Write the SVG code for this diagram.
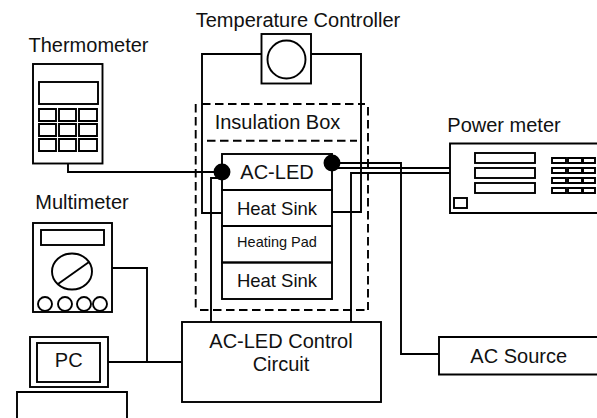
<svg xmlns="http://www.w3.org/2000/svg" width="597" height="418" viewBox="0 0 597 418">
<style>
rect,circle,ellipse,path{fill:none;stroke:#000;stroke-width:1.9}
.d{stroke-dasharray:8.500 4.500;stroke-width:1.9}
.dot{fill:#000}
text{font-family:"Liberation Sans",Arial,sans-serif;font-size:20px;fill:#111;text-anchor:middle}
.hs{font-size:18.500px}
</style>
<rect width="597" height="418" style="fill:#fff;stroke:none"/>
<g id="connectors">
<path d="M68 163V172H222"/>
<path d="M261 54H202V213H222"/>
<path d="M311 54H361V212H332"/>
<path d="M222 178H211V322"/>
<path d="M332 163H401V354H439"/>
<path d="M332 168H450"/>
<path d="M351 322V173H450"/>
<path d="M112 268H147V362"/>
<path d="M108 362H182"/>
</g>
<g id="insulation-box">
<path class="d" d="M202 104H365"/>
<path class="d" d="M195.700 104V308"/>
<path class="d" d="M368 107V310"/>
<path class="d" d="M200 310H368"/>
<path class="d" d="M207 140.700H357"/>
<text x="277.500" y="129">Insulation Box</text>
</g>
<g id="thermometer">
<text x="88.500" y="52">Thermometer</text>
<rect x="33" y="64" width="69.500" height="99.500"/>
<rect x="39" y="82" width="59" height="22"/>
<path d="M39 109h17v12h-17zM59 109h17v12h-17zM79 109h18v12h-18zM39 124h17v12h-17zM59 124h17v12h-17zM79 124h18v12h-18zM39 139h17v12h-17zM59 139h17v12h-17zM79 139h18v12h-18z"/>
</g>
<g id="temperature-controller">
<text x="298" y="27">Temperature Controller</text>
<rect x="261.500" y="34" width="49.500" height="49.500"/>
<circle cx="286.500" cy="59.500" r="19"/>
</g>
<g id="led-stack">
<rect x="222" y="154" width="110" height="36"/>
<text x="277" y="179">AC-LED</text>
<rect x="222" y="190" width="110" height="36"/>
<text x="277" y="214.700" class="hs">Heat Sink</text>
<rect x="222" y="226" width="110" height="36.500"/>
<text x="277" y="247" style="font-size:14.500px">Heating Pad</text>
<rect x="222" y="262.500" width="110" height="36.500"/>
<text x="277" y="286.700" class="hs">Heat Sink</text>
<circle class="dot" cx="222" cy="172" r="7.500"/>
<circle class="dot" cx="332" cy="163" r="7.500"/>
</g>
<g id="power-meter">
<text x="504" y="132">Power meter</text>
<path d="M597 143.500H450V213H597"/>
<rect x="475" y="153" width="60" height="10"/>
<rect x="475" y="168" width="60" height="10"/>
<rect x="475" y="183" width="60" height="10"/>
<path d="M552 158h14v5h-14zM568 158h14v5h-14zM583 158h12v5h-12zM552 168h14v5h-14zM568 168h14v5h-14zM583 168h12v5h-12zM552 178h14v5h-14zM568 178h14v5h-14zM583 178h12v5h-12zM552 188h14v5h-14zM568 188h14v5h-14zM583 188h12v5h-12z"/>
<rect x="454" y="198" width="13" height="10"/>
</g>
<g id="multimeter">
<text x="82" y="209">Multimeter</text>
<rect x="33" y="223" width="79" height="89"/>
<rect x="41" y="230" width="63" height="15"/>
<ellipse cx="72" cy="271.500" rx="20" ry="18"/>
<path d="M58 284L89 262"/>
<circle cx="45" cy="304" r="7"/>
<circle cx="65" cy="304" r="7"/>
<circle cx="84" cy="304" r="7"/>
<circle cx="100" cy="304" r="7"/>
</g>
<g id="pc">
<rect x="30" y="337" width="78" height="50"/>
<rect x="37" y="343" width="63" height="39"/>
<text x="68.700" y="367">PC</text>
<path d="M17 418V392H127V418"/>
</g>
<g id="control-circuit">
<rect x="182" y="322" width="199" height="80"/>
<text x="281" y="348">AC-LED Control</text>
<text x="281" y="371">Circuit</text>
</g>
<g id="ac-source">
<path d="M597 337H439V374.500H597"/>
<text x="518.700" y="362.700">AC Source</text>
</g>
</svg>
